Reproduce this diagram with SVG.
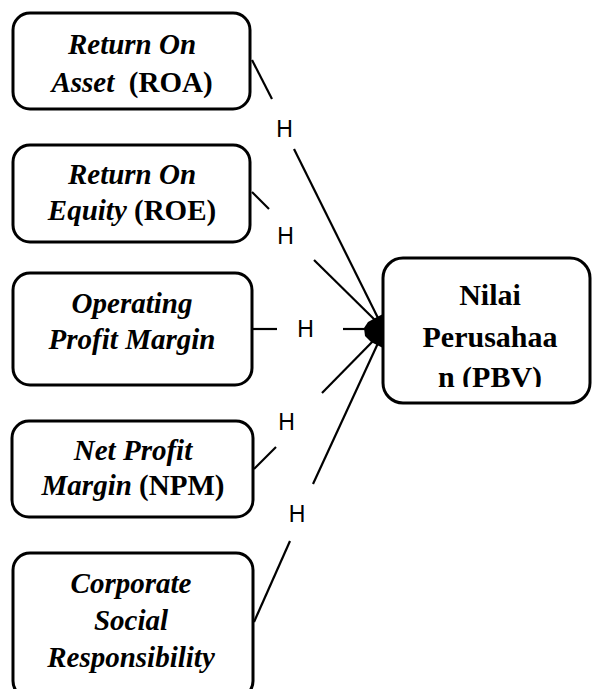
<svg xmlns="http://www.w3.org/2000/svg" width="592" height="689" viewBox="0 0 592 689">
<style>
.box{fill:#fff;stroke:#000;stroke-width:3}
.t{font-family:"Liberation Serif","Times New Roman",serif;font-size:29px;font-weight:bold;text-anchor:middle;fill:#000}
.i{font-style:italic}
.tt{font-family:"Liberation Serif","Times New Roman",serif;font-size:30px;font-weight:bold;text-anchor:middle;fill:#000}
.c{stroke:#000;stroke-width:2.2;fill:none}
.h{font-family:"Liberation Sans",Arial,sans-serif;font-size:23px;text-anchor:middle;fill:#000}
</style>
<defs>
<clipPath id="clipT"><rect x="380" y="255" width="215" height="132"/></clipPath>
</defs>
<g id="connectors">
<line class="c" x1="252" y1="60" x2="272" y2="99"/>
<line class="c" x1="294" y1="149" x2="379" y2="320"/>
<line class="c" x1="252" y1="192" x2="269" y2="209"/>
<line class="c" x1="314" y1="260" x2="378" y2="323"/>
<line class="c" x1="252" y1="329" x2="277" y2="329"/>
<line class="c" x1="343" y1="329" x2="375" y2="329"/>
<line class="c" x1="254" y1="469" x2="276" y2="447"/>
<line class="c" x1="322" y1="393" x2="377" y2="337"/>
<line class="c" x1="254" y1="622" x2="290" y2="541"/>
<line class="c" x1="313" y1="484" x2="379" y2="341"/>
<path d="M383,314 L377,317 L368,322 L364,328 L365,336 L371,342 L383,348 Z" fill="#000"/>
<text class="h" x="284.5" y="137">H</text>
<text class="h" x="285.5" y="244">H</text>
<text class="h" x="305.5" y="337">H</text>
<text class="h" x="286.5" y="430">H</text>
<text class="h" x="297" y="522">H</text>
</g>
<g id="roa">
<rect class="box" x="13" y="13" width="237" height="96" rx="17"/>
<text class="t i" x="132" y="54">Return On</text>
<text class="t" x="132" y="92" xml:space="preserve"><tspan class="i">Asset</tspan>  (ROA)</text>
</g>
<g id="roe">
<rect class="box" x="13" y="145" width="237" height="97" rx="17"/>
<text class="t i" x="132" y="184">Return On</text>
<text class="t" x="132" y="220"><tspan class="i">Equity</tspan> (ROE)</text>
</g>
<g id="opm">
<rect class="box" x="13" y="273" width="239" height="112" rx="17"/>
<text class="t i" x="132" y="313">Operating</text>
<text class="t i" x="132" y="349">Profit Margin</text>
</g>
<g id="npm">
<rect class="box" x="12" y="421" width="241" height="96" rx="17"/>
<text class="t i" x="133" y="460">Net Profit</text>
<text class="t" x="133" y="495"><tspan class="i">Margin</tspan> (NPM)</text>
</g>
<g id="csr">
<rect class="box" x="13" y="553" width="240" height="145" rx="17"/>
<text class="t i" x="131" y="593">Corporate</text>
<text class="t i" x="131" y="630">Social</text>
<text class="t i" x="131" y="667">Responsibility</text>
</g>
<g id="pbv">
<rect class="box" x="383" y="258" width="207" height="145" rx="20"/>
<text class="tt" x="490" y="305">Nilai</text>
<text class="tt" x="490" y="347">Perusahaa</text>
<text class="tt" x="490" y="387" clip-path="url(#clipT)">n (PBV)</text>
</g>
</svg>
